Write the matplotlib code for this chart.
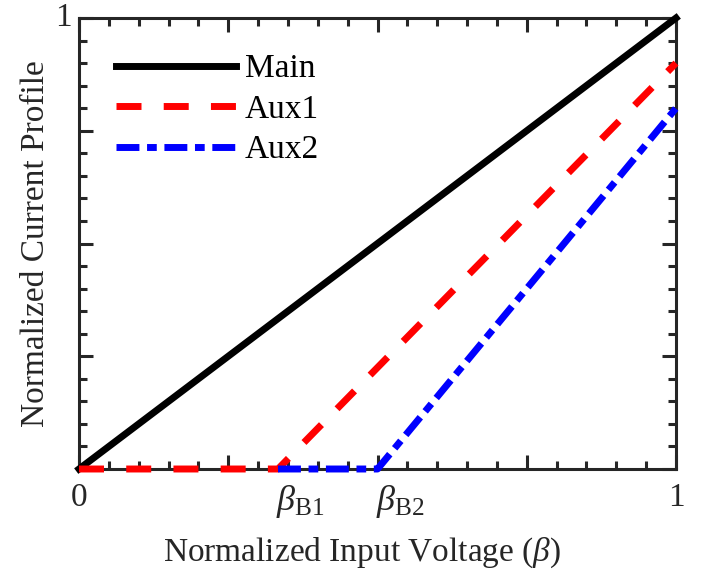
import matplotlib
matplotlib.use('Agg')
import matplotlib.pyplot as plt
from matplotlib.ticker import MultipleLocator
import matplotlib.transforms as mtransforms

plt.rcParams['font.family'] = ['Liberation Serif', 'DejaVu Serif']
plt.rcParams['mathtext.fontset'] = 'custom'
plt.rcParams['mathtext.rm'] = 'Liberation Serif'
plt.rcParams['mathtext.it'] = 'Liberation Serif:italic'
plt.rcParams['lines.scale_dashes'] = False

# 数据
beta_b1 = 1 / 3
beta_b2 = 0.5
main_x = [0, 1]
main_y = [0, 1]
aux1_x = [0, beta_b1, 1]
aux1_y = [0, 0, 0.9]
aux2_x = [beta_b1, beta_b2, 1]
aux2_y = [0, 0, 0.8]
xtick_vals = [0, beta_b1, beta_b2, 1]
xtick_text = ['0', r'$\beta_{\mathrm{B1}}$', r'$\beta_{\mathrm{B2}}$', '1']

axis_col = '#262626'
fs = 24

fig = plt.figure(figsize=(7.02, 5.79), dpi=100)
ax = fig.add_axes([79 / 702, 1 - 469 / 579, 597 / 702, 451 / 579])

ax.plot(main_x, main_y, color='black', lw=5, label='Main', zorder=3, clip_on=False)
ax.plot(aux1_x, aux1_y, color='red', lw=5, dashes=(18, 16), label='Aux1',
        zorder=4, clip_on=False)
ax.plot(aux2_x, aux2_y, color='blue', lw=5, dashes=(16.5, 5.5, 7, 5.5), label='Aux2',
        zorder=5, clip_on=False)

ax.set_xlim(0, 1)
ax.set_ylim(0, 1)
for s in ax.spines.values():
    s.set_linewidth(2.2)
    s.set_color(axis_col)

ax.xaxis.set_major_locator(MultipleLocator(0.25))
ax.xaxis.set_minor_locator(MultipleLocator(0.05))
ax.yaxis.set_major_locator(MultipleLocator(0.25))
ax.yaxis.set_minor_locator(MultipleLocator(0.05))
ax.tick_params(which='both', direction='in', top=True, right=True, color=axis_col,
               labelbottom=False, labelleft=False)
ax.tick_params(which='major', length=10, width=2.2)
ax.tick_params(which='minor', length=6, width=2.2)

# 刻度文字
trans = mtransforms.blended_transform_factory(ax.transData, ax.transAxes)
for v, t in zip(xtick_vals, xtick_text):
    if t.startswith('$'):
        ax.text(v - 0.003, -0.03, t, transform=trans, ha='left', va='top',
                fontsize=fs + 2, color=axis_col)
    else:
        ax.text(v, -0.03, t, transform=trans, ha='center', va='top',
                fontsize=fs, color=axis_col)
ax.text(-0.012, 1.0, '1', transform=ax.transAxes, ha='right', va='center',
        fontsize=fs, color=axis_col)

ax.set_xlabel(r'Normalized Input Voltage ($\beta$)', fontsize=fs, color=axis_col, labelpad=48)
ax.xaxis.label.set_x(0.474)
ax.set_ylabel('Normalized Current Profile', fontsize=fs, color=axis_col, labelpad=20)

ax.legend(loc='upper left', frameon=False, fontsize=fs, handlelength=3.6,
          handletextpad=0.25, labelspacing=0.3, bbox_to_anchor=(0.04, 0.95),
          borderaxespad=0)

fig.savefig('out.png', dpi=100)
